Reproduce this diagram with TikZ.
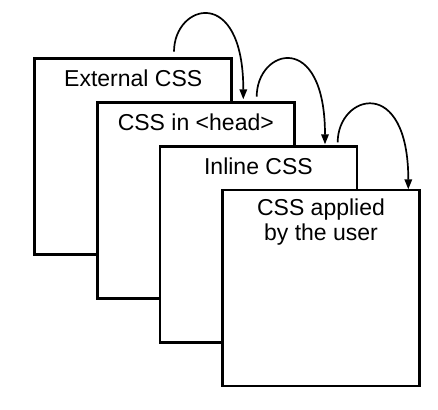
\documentclass[tikz,border=0pt]{standalone}
\usepackage{fontspec}
\setmainfont{Liberation Sans}
\usetikzlibrary{positioning, arrows.meta, calc}

\begin{document}
\begin{tikzpicture}[
		x=1pt, y=1pt,
		>={Triangle[length=10pt, width=7.5pt]},
		layer/.style={draw, line width=2.7pt, fill=white, minimum width=197pt, minimum height=196pt, inner sep=0pt, outer sep=0pt},
		caption/.style={font=\fontsize{23}{24.5}\selectfont, align=center, anchor=base},
		hop/.style={->, line width=1.7pt}
		]
		\useasboundingbox (0,0) rectangle (438,-409);
		
		% ==========================================
		% 1. STACKED STYLE SHEETS
		% ==========================================
		\node[layer, anchor=north west] (ext) at (34.7,-58.7) {};
		\node[caption] (ext_txt) at ($(ext.north)+(0,-28)$) {External CSS};
		
		\node[layer, below right=43.8pt and 62.6pt of ext.north west] (head) {};
		\node[caption] (head_txt) at ($(head.north)+(0,-28)$) {CSS in <head>};
		
		\node[layer, below right=43.8pt and 62.6pt of head.north west] (inl) {};
		\node[caption] (inl_txt) at ($(inl.north)+(0,-28.5)$) {Inline CSS};
		
		\node[layer, below right=43.8pt and 62.6pt of inl.north west] (user) {};
		% base anchor sits on the last line here
		\node[caption] (user_txt) at ($(user.north)+(0,-50)$) {CSS applied\\by the user};
		
		% ==========================================
		% 2. OVERRIDE ARROWS
		% ==========================================
		\coordinate (hop1_in) at (174,-51.7);
		\coordinate (hop1_out) at (243.3,-99.3);
		\coordinate (hop2_in) at (256.7,-96.7);
		\coordinate (hop2_out) at (325,-144.3);
		\coordinate (hop3_in) at (337.7,-142.3);
		\coordinate (hop3_out) at (408.3,-189.3);
		
		\draw[hop] (hop1_in) .. controls +(0,48) and +(0,115) .. (hop1_out);
		\draw[hop] (hop2_in) .. controls +(0,48) and +(0,115) .. (hop2_out);
		\draw[hop] (hop3_in) .. controls +(0,48) and +(0,115) .. (hop3_out);
		
	\end{tikzpicture}
\end{document}
